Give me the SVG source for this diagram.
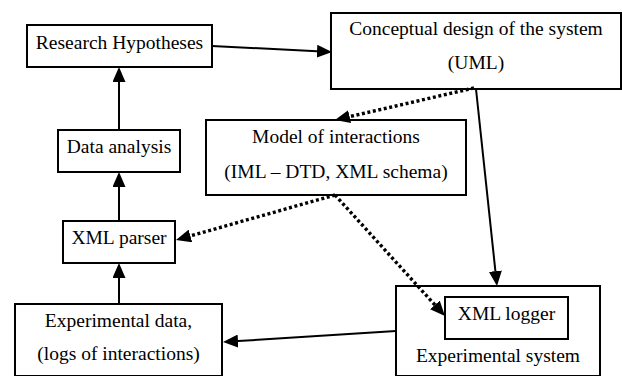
<svg xmlns="http://www.w3.org/2000/svg" width="622" height="376" viewBox="0 0 622 376">
  <style>
    .box { fill: #fff; stroke: #000; stroke-width: 2; }
    .lbl { font-family: "Liberation Serif", "Times New Roman", serif; font-size: 19.5px; fill: #000; text-anchor: middle; }
    .solid { fill: none; stroke: #000; stroke-width: 2; marker-end: url(#head); }
    .dotted { fill: none; stroke: #000; stroke-width: 3.4; stroke-dasharray: 3 2.6; marker-end: url(#head); }
  </style>
  <defs>
    <!-- arrowhead: base sits at the path end, tip points 15px further on -->
    <marker id="head" viewBox="0 0 15 13" refX="0" refY="6.5" markerWidth="15" markerHeight="13" markerUnits="userSpaceOnUse" orient="auto">
      <path d="M0,0 L15,6.5 L0,13 z" fill="#000"/>
    </marker>
  </defs>
  <rect width="622" height="376" fill="#fff"/>

  <g id="research-hypotheses">
    <rect class="box" x="27" y="25" width="185" height="42"/>
    <text class="lbl" x="119.5" y="48.5">Research Hypotheses</text>
  </g>

  <g id="conceptual-design">
    <rect class="box" x="331" y="13" width="290" height="76"/>
    <text class="lbl" x="476" y="35">Conceptual design of the system</text>
    <text class="lbl" x="476" y="69">(UML)</text>
  </g>

  <g id="model-of-interactions">
    <rect class="box" x="206" y="120" width="260" height="75"/>
    <text class="lbl" x="336" y="143">Model of interactions</text>
    <text class="lbl" x="336" y="178">(IML – DTD, XML schema)</text>
  </g>

  <g id="data-analysis">
    <rect class="box" x="58" y="130" width="122" height="42"/>
    <text class="lbl" x="119" y="153">Data analysis</text>
  </g>

  <g id="xml-parser">
    <rect class="box" x="63" y="221" width="112" height="42"/>
    <text class="lbl" x="119" y="244">XML parser</text>
  </g>

  <g id="experimental-data">
    <rect class="box" x="15" y="304" width="207" height="72"/>
    <text class="lbl" x="118.5" y="327">Experimental data,</text>
    <text class="lbl" x="118.5" y="360">(logs of interactions)</text>
  </g>

  <g id="experimental-system">
    <rect class="box" x="396" y="286" width="204" height="90"/>
    <text class="lbl" x="498" y="362">Experimental system</text>
  </g>

  <g id="xml-logger">
    <rect class="box" x="445" y="297" width="123" height="42"/>
    <text class="lbl" x="506.5" y="320">XML logger</text>
  </g>

  <g id="connectors">
    <!-- solid flows -->
    <path class="solid" d="M212,46 L317,51.25"/>
    <path class="solid" d="M119,130 L119,82"/>
    <path class="solid" d="M119,221 L119,187"/>
    <path class="solid" d="M119,304 L119,278"/>
    <path class="solid" d="M476,89 L495.4,271.1"/>
    <path class="solid" d="M396,331 L238,341.05"/>
    <!-- dotted derivations -->
    <path class="dotted" d="M474,88 L349.6,116.6"/>
    <path class="dotted" d="M335,195 L190.4,235.9"/>
    <path class="dotted" d="M335,195 L434.9,304.9"/>
  </g>
</svg>
